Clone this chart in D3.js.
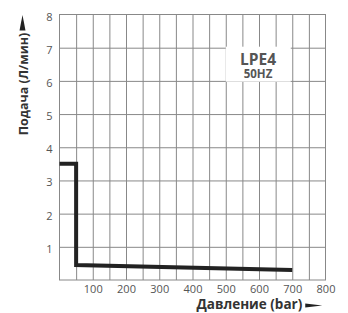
<!DOCTYPE html>
<html>
<head>
<meta charset="utf-8">
<script src="https://cdn.jsdelivr.net/npm/d3@7"></script>
<style>
  body { margin: 0; background: #fff; }
  text { font-family: "Open Sans", sans-serif; }
</style>
</head>
<body>
<div id="chart"></div>
<script>
// curve points (bar, л/мин)
var pressure = [0, 50, 50, 700];
var flow = [3.5, 3.5, 0.45, 0.3];
var xTicks = [100, 200, 300, 400, 500, 600, 700, 800];
var yTicks = [1, 2, 3, 4, 5, 6, 7, 8];
var xGrid = d3.range(50, 800, 50);
var yGrid = d3.range(1, 8);

var margin = {top: 14.5, right: 22.5, bottom: 33, left: 59.5};
var W = 348, H = 313;
var w = W - margin.left - margin.right;
var h = H - margin.top - margin.bottom;

var svg = d3.select("#chart")
  .append("svg")
    .attr("width", W)
    .attr("height", H)
  .append("g")
    .attr("transform", "translate(" + margin.left + "," + margin.top + ")");

var x = d3.scaleLinear().domain([0, 800]).range([0, w]);
var y = d3.scaleLinear().domain([0, 8]).range([h, 0]);

// grid
var gridX = svg.append("g")
  .attr("transform", "translate(0," + h + ")")
  .call(d3.axisBottom(x).tickValues(xGrid).tickSize(-h).tickFormat(""));
var gridY = svg.append("g")
  .call(d3.axisLeft(y).tickValues(yGrid).tickSize(-w).tickFormat(""));
gridX.select(".domain").remove();
gridY.select(".domain").remove();
svg.selectAll(".tick line").attr("stroke", "#888");

svg.append("rect")
  .attr("x", 0).attr("y", 0)
  .attr("width", w).attr("height", h)
  .attr("fill", "none")
  .attr("stroke", "#888");

// axes (labels only)
var xAxis = d3.axisBottom(x).tickValues(xTicks).tickSize(0).tickPadding(5.5);
var yAxis = d3.axisLeft(y).tickValues(yTicks).tickSize(0).tickPadding(7);

var gx = svg.append("g")
  .attr("transform", "translate(0," + h + ")")
  .call(xAxis);
var gy = svg.append("g").call(yAxis);
gx.select(".domain").remove();
gy.select(".domain").remove();
gx.selectAll("text").attr("font-size", 11).attr("fill", "#555")
  .style("font-family", "Open Sans");
gy.selectAll("text").attr("font-size", 11).attr("fill", "#555")
  .style("font-family", "Open Sans").attr("dy", "0.5em");

// model box
svg.append("rect")
  .attr("x", x(500)).attr("y", y(7) - 1)
  .attr("width", 65).attr("height", 35)
  .attr("fill", "#fff");
svg.append("text")
  .attr("x", x(600) - 1).attr("y", y(7) + 17)
  .attr("text-anchor", "middle")
  .attr("font-size", 15.5).attr("font-weight", "bold")
  .attr("fill", "#555")
  .text("LPE4");
svg.append("text")
  .attr("x", x(600) - 1).attr("y", y(7) + 30)
  .attr("text-anchor", "middle")
  .attr("font-size", 11.5).attr("font-weight", "bold")
  .attr("fill", "#555")
  .text("50HZ");

// curve
var line = d3.line()
  .x(function(d) { return x(d[0]); })
  .y(function(d) { return y(d[1]); });

svg.append("path")
  .datum(d3.zip(pressure, flow))
  .attr("d", line)
  .attr("fill", "none")
  .attr("stroke", "#222")
  .attr("stroke-width", 4)
  .attr("stroke-linejoin", "miter");

// axis titles
svg.append("text")
  .attr("transform", "translate(" + (-32) + "," + 69.5 + ") rotate(-90)")
  .attr("text-anchor", "middle")
  .attr("font-size", 12.5).attr("font-weight", "bold")
  .attr("fill", "#333")
  .text("Подача (Л/мин)");

svg.append("path")
  .attr("d", "M-37,0.5 L-34,16 L-40,16 Z")
  .attr("fill", "#222");

svg.append("text")
  .attr("x", x(700) + 10).attr("y", h + 29)
  .attr("text-anchor", "end")
  .attr("font-size", 13.5).attr("font-weight", "bold")
  .attr("fill", "#333")
  .text("Давление (bar)");

svg.append("path")
  .attr("d", "M" + (x(700) + 13) + "," + (h + 23.5) + " L" + (x(700) + 30) + "," + (h + 25.5)
       + " L" + (x(700) + 13) + "," + (h + 27.5) + " Z")
  .attr("fill", "#222");
</script>
</body>
</html>
